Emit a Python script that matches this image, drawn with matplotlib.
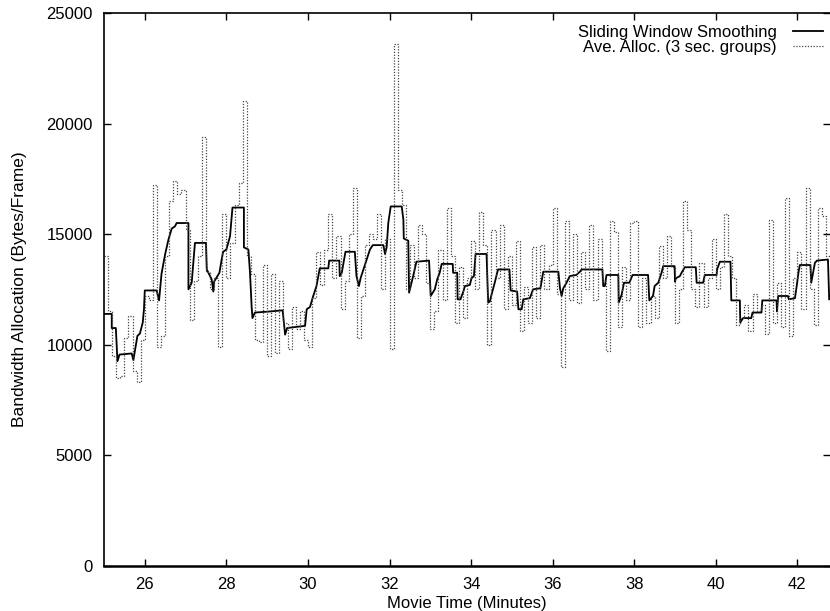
import numpy as np
import matplotlib
matplotlib.use('Agg')
import matplotlib.pyplot as plt

plt.rcParams['font.family'] = ['Liberation Sans', 'DejaVu Sans']

# Sliding window smoothing (minutes, bytes/frame in thousands)
smooth_t = [25.0, 25.19, 25.19, 25.29, 25.33, 25.38, 25.68, 25.72, 25.82, 25.88, 25.95, 25.98, 26.0,
            26.29, 26.35, 26.41, 26.5, 26.58, 26.66, 26.74, 26.78, 27.07, 27.07, 27.15, 27.19, 27.23,
            27.5, 27.52, 27.64, 27.68, 27.7, 27.83, 27.88, 27.92, 28.0, 28.09, 28.15, 28.43, 28.43,
            28.54, 28.58, 28.62, 28.64, 28.7, 29.07, 29.38, 29.44, 29.49, 29.93, 29.97, 30.05, 30.13,
            30.21, 30.29, 30.5, 30.52, 30.77, 30.78, 30.83, 30.88, 30.92, 31.15, 31.19, 31.25, 31.29,
            31.37, 31.44, 31.52, 31.59, 31.85, 31.89, 31.93, 31.97, 32.03, 32.3, 32.34, 32.35, 32.46,
            32.48, 32.52, 32.58, 32.66, 32.97, 33.01, 33.11, 33.17, 33.23, 33.28, 33.55, 33.56, 33.66,
            33.67, 33.74, 33.81, 33.85, 33.97, 34.01, 34.07, 34.11, 34.38, 34.4, 34.42, 34.46, 34.5,
            34.58, 34.66, 34.94, 34.97, 35.13, 35.16, 35.24, 35.28, 35.44, 35.52, 35.7, 35.77, 36.14,
            36.18, 36.22, 36.26, 36.34, 36.42, 36.58, 36.67, 36.71, 37.22, 37.24, 37.28, 37.32, 37.61,
            37.62, 37.69, 37.75, 37.88, 37.96, 38.34, 38.37, 38.46, 38.5, 38.59, 38.67, 38.71, 38.99,
            39.0, 39.02, 39.12, 39.16, 39.24, 39.51, 39.53, 39.69, 39.73, 40.02, 40.03, 40.1, 40.36,
            40.38, 40.59, 40.6, 40.67, 40.87, 40.9, 41.12, 41.14, 41.49, 41.5, 41.53, 41.77, 41.79,
            41.94, 41.98, 42.03, 42.06, 42.32, 42.34, 42.43, 42.48, 42.75, 42.78]
smooth_v = [11.39, 11.39, 10.75, 10.75, 9.25, 9.55, 9.6, 9.3, 10.4, 10.5, 11.0, 11.6, 12.45,
            12.45, 12.0, 13.2, 14.1, 14.75, 15.25, 15.35, 15.5, 15.5, 12.5, 12.8, 13.7, 14.6,
            14.6, 13.4, 12.95, 12.4, 12.85, 13.25, 13.8, 14.2, 14.3, 14.9, 16.2, 16.2, 14.4,
            14.3, 13.25, 11.7, 11.2, 11.45, 11.5, 11.55, 10.45, 10.75, 10.85, 11.6, 11.7, 12.2,
            12.65, 13.45, 13.45, 13.8, 13.8, 13.1, 13.25, 13.77, 14.2, 14.2, 13.1, 12.65, 13.0,
            13.45, 13.85, 14.3, 14.5, 14.5, 14.1, 14.4, 15.5, 16.25, 16.25, 15.65, 14.8, 14.7,
            12.35, 12.65, 13.1, 13.75, 13.8, 12.2, 12.5, 12.95, 13.25, 13.65, 13.65, 13.25, 13.25,
            12.05, 12.05, 12.4, 12.65, 12.7, 13.0, 13.1, 14.1, 14.1, 12.9, 11.9, 11.95, 12.25,
            12.8, 13.4, 13.4, 12.45, 12.4, 11.6, 11.6, 12.05, 12.1, 12.5, 12.55, 13.3, 13.3,
            12.55, 12.2, 12.55, 12.8, 13.1, 13.15, 13.3, 13.4, 13.4, 12.65, 12.65, 13.15, 13.15,
            11.9, 12.25, 12.8, 12.8, 13.15, 13.15, 12.0, 12.2, 12.65, 12.8, 13.25, 13.55, 13.55,
            12.85, 13.0, 13.1, 13.25, 13.5, 13.5, 12.8, 12.8, 13.15, 13.15, 13.4, 13.75, 13.75,
            12.0, 12.0, 11.0, 11.2, 11.2, 11.45, 11.45, 12.0, 12.0, 11.5, 12.2, 12.2, 12.05,
            12.1, 12.6, 13.3, 13.6, 13.6, 12.8, 13.7, 13.8, 13.85, 12.05]

# Average allocation, 3 sec groups (values every 0.1 min from 25.0, thousands)
alloc_v = [14.0, 11.5, 9.5, 8.5, 8.6, 10.3, 11.3, 8.8, 8.3, 10.2,
           12.2, 12.0, 17.2, 9.9, 10.4, 14.0, 16.5, 17.4, 16.8, 17.0,
           15.2, 11.1, 12.9, 14.0, 19.4, 13.3, 12.5, 13.0, 9.9, 15.9,
           13.0, 14.6, 16.3, 17.3, 21.0, 14.0, 13.2, 10.2, 10.1, 13.6,
           9.5, 13.2, 9.6, 12.9, 11.0, 9.8, 11.7, 10.7, 11.5, 10.2,
           9.9, 12.1, 14.2, 12.7, 14.3, 15.9, 13.0, 14.9, 11.6, 12.9,
           15.0, 17.1, 10.3, 12.2, 14.5, 15.0, 14.8, 15.9, 12.5, 14.8,
           9.8, 23.6, 17.0, 16.3, 12.5, 14.5, 13.0, 15.4, 15.0, 12.8,
           10.7, 11.5, 14.3, 12.0, 16.2, 14.0, 11.0, 13.5, 11.2, 13.0,
           14.7, 12.5, 16.0, 14.5, 10.0, 15.2, 13.0, 15.4, 11.6, 14.0,
           11.8, 14.7, 10.6, 12.6, 11.0, 14.4, 11.2, 14.5, 12.5, 13.6,
           16.2, 12.3, 9.0, 15.6, 12.0, 15.0, 11.9, 14.2, 12.5, 15.4,
           12.0, 14.8, 12.9, 9.7, 15.6, 15.1, 10.8, 13.5, 12.0, 15.5,
           15.6, 10.8, 13.0, 11.0, 12.2, 11.2, 14.45, 13.0, 14.9, 13.5,
           11.0, 12.5, 16.5, 15.2, 12.5, 11.7, 13.7, 11.7, 13.0, 14.8,
           12.5, 13.5, 15.9, 14.0, 13.0, 10.9, 11.2, 11.8, 10.6, 12.3,
           11.5, 11.8, 10.5, 15.65, 11.0, 12.8, 10.8, 16.65, 10.4, 13.0,
           14.2, 11.6, 17.1, 12.5, 10.9, 16.2, 15.8, 14.0]
alloc_t = 25.0 + 0.1 * np.arange(len(alloc_v) + 1)

fig = plt.figure(figsize=(8.3, 6.11), dpi=100)
ax = fig.add_axes([104 / 830, 45.3 / 611, 726 / 830, 552.7 / 611])

ax.plot(smooth_t, np.array(smooth_v) * 1000, color='black', lw=1.3,
        label='Sliding Window Smoothing')
ax.step(alloc_t, np.append(alloc_v, alloc_v[-1]) * 1000, where='post', color='#444444',
        lw=0.9, linestyle=(0, (1, 1.3)), label='Ave. Alloc. (3 sec. groups)')

ax.set_xlim(25, 42.8)
ax.set_ylim(0, 25000)
ax.set_xticks(range(26, 43, 2))
ax.set_yticks(range(0, 25001, 5000))
ax.tick_params(direction='in', length=5, width=1, labelsize=12, top=True, right=True)
ax.tick_params(axis='x', pad=8)
ax.tick_params(axis='y', pad=8)
ax.spines['right'].set_visible(False)
ax.spines['bottom'].set_linewidth(1.8)
for s in ['top', 'left']:
    ax.spines[s].set_linewidth(1.2)

ax.set_xlabel('Movie Time (Minutes)', fontsize=12, labelpad=3)
ax.set_ylabel('Bandwidth Allocation (Bytes/Frame)', fontsize=12.5, labelpad=14)

ax.legend(loc='upper right', frameon=False, markerfirst=False, fontsize=12,
          handlelength=1.8, handletextpad=1.0, labelspacing=0.0,
          borderaxespad=0.0, bbox_to_anchor=(1.0, 0.99))

fig.savefig('out.png', dpi=100)
